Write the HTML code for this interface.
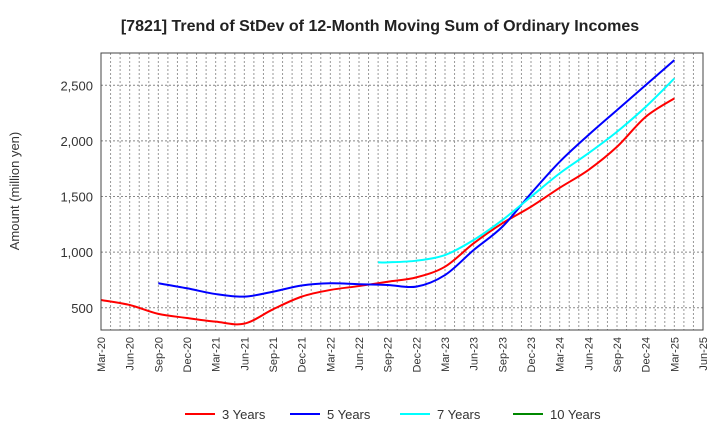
<!DOCTYPE html>
<html><head><meta charset="utf-8"><style>
body{margin:0;background:#fff;}
svg text{font-family:"Liberation Sans",Arial,sans-serif;fill:#333;}
</style></head><body>
<svg id="chart" width="720" height="440" xmlns="http://www.w3.org/2000/svg">
<text x="380" y="31" text-anchor="middle" font-size="16" font-weight="bold" style="fill:#222">[7821]  Trend of StDev of 12-Month Moving Sum of Ordinary Incomes</text>
<text transform="translate(19,191) rotate(-90)" text-anchor="middle" font-size="13">Amount (million yen)</text>
<g id="grid"></g>
<g id="axes"></g>
<g id="series"></g>
<rect x="101" y="53" width="602" height="277" fill="none" stroke="#444" stroke-width="1"/>
<g>
<g><line x1="185" y1="414" x2="215" y2="414" stroke="#f00" stroke-width="2"/><text x="222" y="419" font-size="13">3 Years</text></g>
<g><line x1="290" y1="414" x2="320" y2="414" stroke="#00f" stroke-width="2"/><text x="327" y="419" font-size="13">5 Years</text></g>
<g><line x1="400" y1="414" x2="430" y2="414" stroke="#0ff" stroke-width="2"/><text x="437" y="419" font-size="13">7 Years</text></g>
<g><line x1="513" y1="414" x2="543" y2="414" stroke="#080" stroke-width="2"/><text x="550" y="419" font-size="13">10 Years</text></g>
</g>
</svg>
<script>
const xTickLabels=["Mar-20","Jun-20","Sep-20","Dec-20","Mar-21","Jun-21","Sep-21","Dec-21","Mar-22","Jun-22","Sep-22","Dec-22","Mar-23","Jun-23","Sep-23","Dec-23","Mar-24","Jun-24","Sep-24","Dec-24","Mar-25","Jun-25"];
const yTicks=[500,1000,1500,2000,2500];
const monthsRed=[0,3,6,9,12,15,18,21,24,27,30,33,36,39,42,45,48,51,54,57,60];
const valuesRed=[570,525,445,408,375,357,486,600,660,695,734,773,869,1079,1259,1408,1578,1738,1947,2216,2382];
const monthsBlue=[6,9,12,15,18,21,24,27,30,33,36,39,42,45,48,51,54,57,60];
const valuesBlue=[720,675,623,600,644,700,720,711,705,690,794,1019,1228,1528,1812,2052,2277,2501,2726];
const monthsCyan=[29,30,33,36,39,42,45,48,51,54,57,60];
const valuesCyan=[908,908,923,974,1109,1288,1498,1708,1888,2082,2306,2561];
const monthsGreen=[];
const valuesGreen=[];
const X0=101,X1=703,Y0=330,Y1=53,MMAX=63,VMIN=300,VMAX=2790;
const xs=m=>X0+(X1-X0)*m/MMAX;
const ys=v=>Y0-(Y0-Y1)*(v-VMIN)/(VMAX-VMIN);
const NS="http://www.w3.org/2000/svg";
function mk(t,a,p){const e=document.createElementNS(NS,t);for(const k in a)e.setAttribute(k,a[k]);p.appendChild(e);return e;}
const grid=document.getElementById('grid'),axes=document.getElementById('axes'),ser=document.getElementById('series');
for(let m=1;m<MMAX;m++){const l=mk('line',{x1:xs(m),x2:xs(m),y1:Y1,y2:Y0,stroke:'#999','stroke-width':1,'stroke-dasharray':'2,2'},grid);

}
yTicks.forEach(v=>{const l=mk('line',{x1:X0,x2:X1,y1:ys(v),y2:ys(v),stroke:'#888','stroke-width':1,'stroke-dasharray':'2,2'},grid);


const t=mk('text',{x:93,y:ys(v)+5,'text-anchor':'end','font-size':13},axes);t.textContent=v.toLocaleString('en-US');

});
xTickLabels.forEach((s,i)=>{const x=xs(i*3);const t=mk('text',{transform:`translate(${x+4},337) rotate(-90)`,'text-anchor':'end','font-size':11},axes);t.textContent=s;

});
function path(ms,vs){const p=ms.map((m,i)=>[xs(m),ys(vs[i])]);if(p.length<2)return '';let d=`M${p[0][0]},${p[0][1]}`;
for(let i=0;i<p.length-1;i++){const a=p[i-1]||p[i],b=p[i],c=p[i+1],e=p[i+2]||c;
d+=`C${b[0]+(c[0]-a[0])/6},${b[1]+(c[1]-a[1])/6} ${c[0]-(e[0]-b[0])/6},${c[1]-(e[1]-b[1])/6} ${c[0]},${c[1]}`;}return d;}
[[monthsRed,valuesRed,'#f00','line-3-years'],[monthsBlue,valuesBlue,'#00f','line-5-years'],[monthsCyan,valuesCyan,'#0ff','line-7-years'],[monthsGreen,valuesGreen,'#080','line-10-years']].forEach(([m,v,c,n])=>{
const el=mk('path',{d:path(m,v),fill:'none',stroke:c,'stroke-width':2},ser);

});
</script>
</body></html>
